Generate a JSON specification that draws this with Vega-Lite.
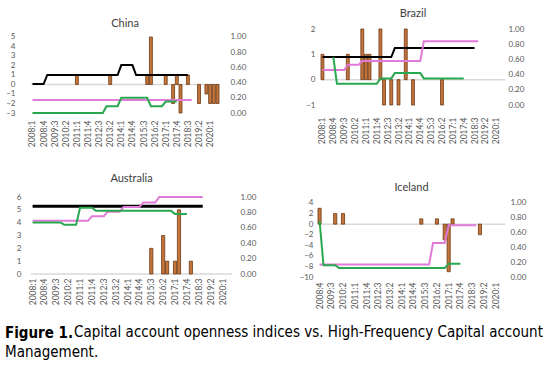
{
"$schema": "https://vega.github.io/schema/vega-lite/v6.json",
"padding": {"left": 5, "top": 8, "right": 0, "bottom": 0},
"datasets": {
"cn_bar": [{"q":"2011:1","v":1},{"q":"2013:2","v":1},{"q":"2015:4","v":1},{"q":"2016:1","v":5},{"q":"2017:1","v":1},{"q":"2017:3","v":-2},{"q":"2017:4","v":1},{"q":"2018:1","v":-3},{"q":"2018:3","v":1},{"q":"2019:2","v":-2},{"q":"2019:4","v":-1},{"q":"2020:1","v":-2},{"q":"2020:2","v":-2},{"q":"2020:3","v":-2}],
"cn_line": [
{"q":"2008:1","b":0.38,"p":0.17,"g":0},{"q":"2008:2","b":0.38,"p":0.17,"g":0},{"q":"2008:3","b":0.38,"p":0.17,"g":0},{"q":"2008:4","b":0.38,"p":0.17,"g":0},
{"q":"2009:1","b":0.5,"p":0.17,"g":0},{"q":"2009:2","b":0.5,"p":0.17,"g":0},{"q":"2009:3","b":0.5,"p":0.17,"g":0},{"q":"2009:4","b":0.5,"p":0.17,"g":0},
{"q":"2010:1","b":0.5,"p":0.17,"g":0},{"q":"2010:2","b":0.5,"p":0.17,"g":0},{"q":"2010:3","b":0.5,"p":0.17,"g":0},{"q":"2010:4","b":0.5,"p":0.17,"g":0},
{"q":"2011:1","b":0.5,"p":0.17,"g":0},{"q":"2011:2","b":0.5,"p":0.17,"g":0},{"q":"2011:3","b":0.5,"p":0.17,"g":0},{"q":"2011:4","b":0.5,"p":0.17,"g":0},
{"q":"2012:1","b":0.5,"p":0.17,"g":0},{"q":"2012:2","b":0.5,"p":0.17,"g":0},{"q":"2012:3","b":0.5,"p":0.17,"g":0},{"q":"2012:4","b":0.5,"p":0.17,"g":0},
{"q":"2013:1","b":0.5,"p":0.17,"g":0.09},{"q":"2013:2","b":0.5,"p":0.17,"g":0.09},{"q":"2013:3","b":0.5,"p":0.17,"g":0.09},{"q":"2013:4","b":0.5,"p":0.17,"g":0.09},
{"q":"2014:1","b":0.63,"p":0.17,"g":0.2},{"q":"2014:2","b":0.63,"p":0.17,"g":0.2},{"q":"2014:3","b":0.63,"p":0.17,"g":0.2},{"q":"2014:4","b":0.63,"p":0.17,"g":0.2},
{"q":"2015:1","b":0.5,"p":0.17,"g":0.2},{"q":"2015:2","b":0.5,"p":0.17,"g":0.2},{"q":"2015:3","b":0.5,"p":0.17,"g":0.2},{"q":"2015:4","b":0.5,"p":0.17,"g":0.2},
{"q":"2016:1","b":0.5,"p":0.17,"g":0.09},{"q":"2016:2","b":0.5,"p":0.17,"g":0.09},{"q":"2016:3","b":0.5,"p":0.17,"g":0.09},{"q":"2016:4","b":0.5,"p":0.17,"g":0.09},
{"q":"2017:1","b":0.5,"p":0.17,"g":0.15},{"q":"2017:2","b":0.5,"p":0.17,"g":0.15},{"q":"2017:3","b":0.5,"p":0.17,"g":0.15},{"q":"2017:4","b":0.5,"p":0.17,"g":0.15},
{"q":"2018:1","b":0.5,"p":0.17},{"q":"2018:2","b":0.5,"p":0.17},{"q":"2018:3","b":0.5,"p":0.17},{"q":"2018:4","p":0.17}],
"br_bar": [{"q":"2008:1","v":1},{"q":"2009:4","v":1},{"q":"2010:4","v":2},{"q":"2011:1","v":1},{"q":"2011:2","v":1},{"q":"2012:1","v":2},{"q":"2012:2","v":-1},{"q":"2012:4","v":-1},{"q":"2013:2","v":-1},{"q":"2013:4","v":2},{"q":"2014:2","v":-1},{"q":"2016:2","v":-1}],
"br_line": [
{"q":"2008:1","b":0.63,"p":0.46},{"q":"2008:2","b":0.63,"p":0.46},{"q":"2008:3","b":0.63,"p":0.46},{"q":"2008:4","b":0.63,"p":0.46,"g":0.63},
{"q":"2009:1","b":0.63,"p":0.46,"g":0.28},{"q":"2009:2","b":0.63,"p":0.46,"g":0.28},{"q":"2009:3","b":0.63,"p":0.46,"g":0.28},{"q":"2009:4","b":0.63,"p":0.53,"g":0.28},
{"q":"2010:1","b":0.63,"p":0.53,"g":0.28},{"q":"2010:2","b":0.63,"p":0.53,"g":0.28},{"q":"2010:3","b":0.63,"p":0.53,"g":0.28},{"q":"2010:4","b":0.63,"p":0.58,"g":0.28},
{"q":"2011:1","b":0.63,"p":0.58,"g":0.28},{"q":"2011:2","b":0.63,"p":0.58,"g":0.28},{"q":"2011:3","b":0.63,"p":0.58,"g":0.28},{"q":"2011:4","b":0.63,"p":0.58,"g":0.28},
{"q":"2012:1","b":0.63,"p":0.58,"g":0.35},{"q":"2012:2","b":0.63,"p":0.58,"g":0.35},{"q":"2012:3","b":0.63,"p":0.58,"g":0.35},{"q":"2012:4","b":0.63,"p":0.58,"g":0.35},
{"q":"2013:1","b":0.75,"p":0.58,"g":0.42},{"q":"2013:2","b":0.75,"p":0.58,"g":0.42},{"q":"2013:3","b":0.75,"p":0.58,"g":0.42},{"q":"2013:4","b":0.75,"p":0.58,"g":0.42},
{"q":"2014:1","b":0.75,"p":0.58,"g":0.42},{"q":"2014:2","b":0.75,"p":0.58,"g":0.42},{"q":"2014:3","b":0.75,"p":0.58,"g":0.42},{"q":"2014:4","b":0.75,"p":0.58,"g":0.42},
{"q":"2015:1","b":0.75,"p":0.84,"g":0.35},{"q":"2015:2","b":0.75,"p":0.84,"g":0.35},{"q":"2015:3","b":0.75,"p":0.84,"g":0.35},{"q":"2015:4","b":0.75,"p":0.84,"g":0.35},
{"q":"2016:1","b":0.75,"p":0.84,"g":0.35},{"q":"2016:2","b":0.75,"p":0.84,"g":0.35},{"q":"2016:3","b":0.75,"p":0.84,"g":0.35},{"q":"2016:4","b":0.75,"p":0.84,"g":0.35},
{"q":"2017:1","b":0.75,"p":0.84,"g":0.35},{"q":"2017:2","b":0.75,"p":0.84,"g":0.35},{"q":"2017:3","b":0.75,"p":0.84,"g":0.35},{"q":"2017:4","b":0.75,"p":0.84,"g":0.35},
{"q":"2018:1","b":0.75,"p":0.84},{"q":"2018:2","b":0.75,"p":0.84},{"q":"2018:3","b":0.75,"p":0.84},{"q":"2018:4","p":0.84}],
"au_bar": [{"q":"2015:3","v":2},{"q":"2016:2","v":3},{"q":"2016:3","v":1},{"q":"2017:1","v":1},{"q":"2017:2","v":5},{"q":"2018:1","v":1}],
"au_line": [
{"q":"2008:1","b":0.88,"p":0.69,"g":0.67},{"q":"2008:2","b":0.88,"p":0.69,"g":0.67},{"q":"2008:3","b":0.88,"p":0.69,"g":0.67},{"q":"2008:4","b":0.88,"p":0.69,"g":0.67},
{"q":"2009:1","b":0.88,"p":0.69,"g":0.67},{"q":"2009:2","b":0.88,"p":0.69,"g":0.67},{"q":"2009:3","b":0.88,"p":0.69,"g":0.67},{"q":"2009:4","b":0.88,"p":0.69,"g":0.67},
{"q":"2010:1","b":0.88,"p":0.69,"g":0.64},{"q":"2010:2","b":0.88,"p":0.69,"g":0.64},{"q":"2010:3","b":0.88,"p":0.69,"g":0.64},{"q":"2010:4","b":0.88,"p":0.69,"g":0.64},
{"q":"2011:1","b":0.88,"p":0.69,"g":0.86},{"q":"2011:2","b":0.88,"p":0.69,"g":0.86},{"q":"2011:3","b":0.88,"p":0.69,"g":0.86},{"q":"2011:4","b":0.88,"p":0.75,"g":0.86},
{"q":"2012:1","b":0.88,"p":0.75,"g":0.82},{"q":"2012:2","b":0.88,"p":0.75,"g":0.82},{"q":"2012:3","b":0.88,"p":0.75,"g":0.82},{"q":"2012:4","b":0.88,"p":0.81,"g":0.82},
{"q":"2013:1","b":0.88,"p":0.81,"g":0.82},{"q":"2013:2","b":0.88,"p":0.81,"g":0.82},{"q":"2013:3","b":0.88,"p":0.81,"g":0.82},{"q":"2013:4","b":0.88,"p":0.87,"g":0.82},
{"q":"2014:1","b":0.88,"p":0.87,"g":0.82},{"q":"2014:2","b":0.88,"p":0.87,"g":0.82},{"q":"2014:3","b":0.88,"p":0.87,"g":0.82},{"q":"2014:4","b":0.88,"p":0.87,"g":0.82},
{"q":"2015:1","b":0.88,"p":0.93,"g":0.82},{"q":"2015:2","b":0.88,"p":0.93,"g":0.82},{"q":"2015:3","b":0.88,"p":0.93,"g":0.82},{"q":"2015:4","b":0.88,"p":0.93,"g":0.82},
{"q":"2016:1","b":0.88,"p":1,"g":0.82},{"q":"2016:2","b":0.88,"p":1,"g":0.82},{"q":"2016:3","b":0.88,"p":1,"g":0.82},{"q":"2016:4","b":0.88,"p":1,"g":0.82},
{"q":"2017:1","b":0.88,"p":1,"g":0.78},{"q":"2017:2","b":0.88,"p":1,"g":0.78},{"q":"2017:3","b":0.88,"p":1,"g":0.78},{"q":"2017:4","b":0.88,"p":1,"g":0.78},
{"q":"2018:1","b":0.88,"p":1},{"q":"2018:2","b":0.88,"p":1},{"q":"2018:3","b":0.88,"p":1},{"q":"2018:4","b":0.88,"p":1}],
"is_bar": [{"q":"2008:4","v":3},{"q":"2009:4","v":2},{"q":"2010:2","v":2},{"q":"2015:2","v":1},{"q":"2016:2","v":1},{"q":"2016:4","v":-3},{"q":"2017:1","v":-9},{"q":"2017:2","v":1},{"q":"2019:1","v":-2}],
"is_line": [
{"q":"2008:4","p":0.17,"g":0.76},
{"q":"2009:1","p":0.17,"g":0.16},{"q":"2009:2","p":0.17,"g":0.16},{"q":"2009:3","p":0.17,"g":0.16},{"q":"2009:4","p":0.17,"g":0.16},
{"q":"2010:1","p":0.17,"g":0.12},{"q":"2010:2","p":0.17,"g":0.12},{"q":"2010:3","p":0.17,"g":0.12},{"q":"2010:4","p":0.17,"g":0.12},
{"q":"2011:1","p":0.17,"g":0.12},{"q":"2011:2","p":0.17,"g":0.12},{"q":"2011:3","p":0.17,"g":0.12},{"q":"2011:4","p":0.17,"g":0.12},
{"q":"2012:1","p":0.17,"g":0.12},{"q":"2012:2","p":0.17,"g":0.12},{"q":"2012:3","p":0.17,"g":0.12},{"q":"2012:4","p":0.17,"g":0.12},
{"q":"2013:1","p":0.17,"g":0.12},{"q":"2013:2","p":0.17,"g":0.12},{"q":"2013:3","p":0.17,"g":0.12},{"q":"2013:4","p":0.17,"g":0.12},
{"q":"2014:1","p":0.17,"g":0.12},{"q":"2014:2","p":0.17,"g":0.12},{"q":"2014:3","p":0.17,"g":0.12},{"q":"2014:4","p":0.17,"g":0.12},
{"q":"2015:1","p":0.17,"g":0.12},{"q":"2015:2","p":0.17,"g":0.12},{"q":"2015:3","p":0.17,"g":0.12},{"q":"2015:4","p":0.17,"g":0.12},
{"q":"2016:1","p":0.46,"g":0.12},{"q":"2016:2","p":0.46,"g":0.12},{"q":"2016:3","p":0.46,"g":0.12},{"q":"2016:4","p":0.46,"g":0.12},
{"q":"2017:1","p":0.7,"g":0.18},{"q":"2017:2","p":0.7,"g":0.18},{"q":"2017:3","p":0.7,"g":0.18},{"q":"2017:4","p":0.7,"g":0.18},
{"q":"2018:1","p":0.7},{"q":"2018:2","p":0.7},{"q":"2018:3","p":0.7},{"q":"2018:4","p":0.7}]
},
"title": {
 "text": "Capital account openness indices vs. High-Frequency Capital account",
 "orient": "bottom", "anchor": "start", "offset": -35, "dx": 69,
 "font": "'Liberation Sans Narrow', 'Arial Narrow', 'DejaVu Sans Condensed', 'Liberation Sans', sans-serif",
 "fontSize": 15, "fontWeight": "normal", "color": "#000000"
},
"vconcat": [
{
"title": {
 "text": "Figure 1.", "subtitle": "Management.",
 "orient": "bottom", "anchor": "start", "offset": 13,
 "font": "'Liberation Sans Narrow', 'Arial Narrow', 'DejaVu Sans Condensed', 'Liberation Sans', sans-serif",
 "fontSize": 15, "fontWeight": "bold", "color": "#000000",
 "subtitleFont": "'Liberation Sans Narrow', 'Arial Narrow', 'DejaVu Sans Condensed', 'Liberation Sans', sans-serif",
 "subtitleFontSize": 15, "subtitleFontWeight": "normal", "subtitleColor": "#000000", "subtitlePadding": 4
},
"spacing": 24,
"vconcat": [
{"hconcat": [
{"title": {"text": "China", "offset": 0}, "width": 188, "height": 84,
 "layer": [
  {"layer": [
   {"data": {"values": [{"z": 0}]}, "mark": {"type": "rule", "color": "#d9d9d9", "strokeWidth": 1.5}, "encoding": {"y": {"field": "z", "type": "quantitative", "title": null, "axis": {"orient": "left", "values": [-3,-2,-1,0,1,2,3,4,5], "labelOverlap": false, "labelPadding": 16, "minExtent": 26, "maxExtent": 26}}}},
   {"data": {"name": "cn_bar"}, "mark": {"type": "bar", "fill": "#c5743a", "stroke": "#6b3815", "strokeWidth": 0.8},
    "encoding": {
     "x": {"field": "q", "type": "ordinal", "title": null, "scale": {"domain": ["2008:1","2008:2","2008:3","2008:4","2009:1","2009:2","2009:3","2009:4","2010:1","2010:2","2010:3","2010:4","2011:1","2011:2","2011:3","2011:4","2012:1","2012:2","2012:3","2012:4","2013:1","2013:2","2013:3","2013:4","2014:1","2014:2","2014:3","2014:4","2015:1","2015:2","2015:3","2015:4","2016:1","2016:2","2016:3","2016:4","2017:1","2017:2","2017:3","2017:4","2018:1","2018:2","2018:3","2018:4","2019:1","2019:2","2019:3","2019:4","2020:1","2020:2","2020:3"], "paddingInner": 0.2, "paddingOuter": 0}, "axis": {"values": ["2008:1","2008:4","2009:3","2010:2","2011:1","2011:4","2012:3","2013:2","2014:1","2014:4","2015:3","2016:2","2017:1","2017:4","2018:3","2019:2","2020:1"], "labelAngle": 270, "labelPadding": 7, "labelFontSize": 8.5, "labelOverlap": false, "minExtent": 36, "maxExtent": 36}},
     "y": {"field": "v", "type": "quantitative", "title": null, "scale": {"domain": [-3, 5.842], "nice": false}, "axis": {"orient": "left", "values": [-3,-2,-1,0,1,2,3,4,5], "labelOverlap": false, "labelPadding": 16, "minExtent": 26, "maxExtent": 26}}
    }}
  ]},
  {"data": {"name": "cn_line"},
   "encoding": {"x": {"field": "q", "type": "ordinal", "title": null}},
   "layer": [
    {"mark": {"type": "line", "color": "#000000", "strokeWidth": 2}, "encoding": {"y": {"field": "b", "type": "quantitative", "title": null, "scale": {"domain": [0, 1.105], "nice": false}, "axis": {"orient": "right", "values": [0,0.2,0.4,0.6,0.8,1], "format": ".2f", "labelOverlap": false, "labelPadding": 11, "minExtent": 30, "maxExtent": 30}}}},
    {"mark": {"type": "line", "color": "#e27ad9", "strokeWidth": 2}, "encoding": {"y": {"field": "p", "type": "quantitative", "title": null, "axis": {"orient": "right", "values": [0,0.2,0.4,0.6,0.8,1], "format": ".2f", "labelOverlap": false, "labelPadding": 11, "minExtent": 30, "maxExtent": 30}}}},
    {"mark": {"type": "line", "color": "#2aa84f", "strokeWidth": 2}, "encoding": {"y": {"field": "g", "type": "quantitative", "title": null, "axis": {"orient": "right", "values": [0,0.2,0.4,0.6,0.8,1], "format": ".2f", "labelOverlap": false, "labelPadding": 11, "minExtent": 30, "maxExtent": 30}}}}
   ]}
 ],
 "resolve": {"scale": {"y": "independent"}, "axis": {"y": "independent"}}
},
{"title": {"text": "Brazil", "offset": 6}, "width": 184, "height": 76,
 "layer": [
  {"layer": [
   {"data": {"values": [{"z": 0}]}, "mark": {"type": "rule", "color": "#d9d9d9", "strokeWidth": 1.5}, "encoding": {"y": {"field": "z", "type": "quantitative", "title": null, "axis": {"orient": "left", "values": [-1,0,1,2], "labelOverlap": false, "labelPadding": 6, "minExtent": 20, "maxExtent": 20}}}},
   {"data": {"name": "br_bar"}, "mark": {"type": "bar", "fill": "#c5743a", "stroke": "#6b3815", "strokeWidth": 0.8},
    "encoding": {
     "x": {"field": "q", "type": "ordinal", "title": null, "scale": {"domain": ["2008:1","2008:2","2008:3","2008:4","2009:1","2009:2","2009:3","2009:4","2010:1","2010:2","2010:3","2010:4","2011:1","2011:2","2011:3","2011:4","2012:1","2012:2","2012:3","2012:4","2013:1","2013:2","2013:3","2013:4","2014:1","2014:2","2014:3","2014:4","2015:1","2015:2","2015:3","2015:4","2016:1","2016:2","2016:3","2016:4","2017:1","2017:2","2017:3","2017:4","2018:1","2018:2","2018:3","2018:4","2019:1","2019:2","2019:3","2019:4","2020:1","2020:2","2020:3"], "paddingInner": 0.2, "paddingOuter": 0}, "axis": {"values": ["2008:1","2008:4","2009:3","2010:2","2011:1","2011:4","2012:3","2013:2","2014:1","2014:4","2015:3","2016:2","2017:1","2017:4","2018:3","2019:2","2020:1"], "labelAngle": 270, "labelPadding": 12, "labelFontSize": 8.5, "labelOverlap": false, "minExtent": 36, "maxExtent": 36}},
     "y": {"field": "v", "type": "quantitative", "title": null, "scale": {"domain": [-1, 2], "nice": false}, "axis": {"orient": "left", "values": [-1,0,1,2], "labelOverlap": false, "labelPadding": 6, "minExtent": 20, "maxExtent": 20}}
    }}
  ]},
  {"data": {"name": "br_line"},
   "encoding": {"x": {"field": "q", "type": "ordinal", "title": null}},
   "layer": [
    {"mark": {"type": "line", "color": "#000000", "strokeWidth": 2}, "encoding": {"y": {"field": "b", "type": "quantitative", "title": null, "scale": {"domain": [0, 1], "nice": false}, "axis": {"orient": "right", "values": [0,0.2,0.4,0.6,0.8,1], "format": ".2f", "labelOverlap": false, "labelPadding": 3, "minExtent": 30, "maxExtent": 30}}}},
    {"mark": {"type": "line", "color": "#e27ad9", "strokeWidth": 2}, "encoding": {"y": {"field": "p", "type": "quantitative", "title": null, "axis": {"orient": "right", "values": [0,0.2,0.4,0.6,0.8,1], "format": ".2f", "labelOverlap": false, "labelPadding": 3, "minExtent": 30, "maxExtent": 30}}}},
    {"mark": {"type": "line", "color": "#2aa84f", "strokeWidth": 2}, "encoding": {"y": {"field": "g", "type": "quantitative", "title": null, "axis": {"orient": "right", "values": [0,0.2,0.4,0.6,0.8,1], "format": ".2f", "labelOverlap": false, "labelPadding": 3, "minExtent": 30, "maxExtent": 30}}}}
   ]}
 ],
 "resolve": {"scale": {"y": "independent"}, "axis": {"y": "independent"}}
}
], "spacing": 52},
{"hconcat": [
{"title": {"text": "Australia", "offset": 9}, "width": 201, "height": 77,
 "layer": [
  {"layer": [
   {"data": {"values": [{"z": 0}]}, "mark": {"type": "rule", "color": "#d9d9d9", "strokeWidth": 1.5}, "encoding": {"y": {"field": "z", "type": "quantitative", "title": null, "axis": {"orient": "left", "values": [0,1,2,3,4,5,6], "labelOverlap": false, "labelPadding": 10, "minExtent": 24, "maxExtent": 24}}}},
   {"data": {"name": "au_bar"}, "mark": {"type": "bar", "fill": "#c5743a", "stroke": "#6b3815", "strokeWidth": 0.8},
    "encoding": {
     "x": {"field": "q", "type": "ordinal", "title": null, "scale": {"domain": ["2008:1","2008:2","2008:3","2008:4","2009:1","2009:2","2009:3","2009:4","2010:1","2010:2","2010:3","2010:4","2011:1","2011:2","2011:3","2011:4","2012:1","2012:2","2012:3","2012:4","2013:1","2013:2","2013:3","2013:4","2014:1","2014:2","2014:3","2014:4","2015:1","2015:2","2015:3","2015:4","2016:1","2016:2","2016:3","2016:4","2017:1","2017:2","2017:3","2017:4","2018:1","2018:2","2018:3","2018:4","2019:1","2019:2","2019:3","2019:4","2020:1","2020:2","2020:3"], "paddingInner": 0.2, "paddingOuter": 0}, "axis": {"values": ["2008:1","2008:4","2009:3","2010:2","2011:1","2011:4","2012:3","2013:2","2014:1","2014:4","2015:3","2016:2","2017:1","2017:4","2018:3","2019:2","2020:1"], "labelAngle": 270, "labelPadding": 4, "labelFontSize": 8.5, "labelOverlap": false, "minExtent": 36, "maxExtent": 36}},
     "y": {"field": "v", "type": "quantitative", "title": null, "scale": {"domain": [0, 6], "nice": false}, "axis": {"orient": "left", "values": [0,1,2,3,4,5,6], "labelOverlap": false, "labelPadding": 10, "minExtent": 24, "maxExtent": 24}}
    }}
  ]},
  {"data": {"name": "au_line"},
   "encoding": {"x": {"field": "q", "type": "ordinal", "title": null}},
   "layer": [
    {"mark": {"type": "line", "color": "#000000", "strokeWidth": 3}, "encoding": {"y": {"field": "b", "type": "quantitative", "title": null, "scale": {"domain": [0, 1], "nice": false}, "axis": {"orient": "right", "values": [0,0.2,0.4,0.6,0.8,1], "format": ".2f", "labelOverlap": false, "labelPadding": 8, "minExtent": 30, "maxExtent": 30}}}},
    {"mark": {"type": "line", "color": "#e27ad9", "strokeWidth": 2}, "encoding": {"y": {"field": "p", "type": "quantitative", "title": null, "axis": {"orient": "right", "values": [0,0.2,0.4,0.6,0.8,1], "format": ".2f", "labelOverlap": false, "labelPadding": 8, "minExtent": 30, "maxExtent": 30}}}},
    {"mark": {"type": "line", "color": "#2aa84f", "strokeWidth": 2}, "encoding": {"y": {"field": "g", "type": "quantitative", "title": null, "axis": {"orient": "right", "values": [0,0.2,0.4,0.6,0.8,1], "format": ".2f", "labelOverlap": false, "labelPadding": 8, "minExtent": 30, "maxExtent": 30}}}}
   ]}
 ],
 "resolve": {"scale": {"y": "independent"}, "axis": {"y": "independent"}}
},
{"title": {"text": "Iceland", "offset": 4}, "width": 187, "height": 80,
 "layer": [
  {"layer": [
   {"data": {"values": [{"z": 0}]}, "mark": {"type": "rule", "color": "#d9d9d9", "strokeWidth": 1.5}, "encoding": {"y": {"field": "z", "type": "quantitative", "title": null, "axis": {"orient": "left", "values": [-10,-8,-6,-4,-2,0,2,4], "labelOverlap": false, "labelPadding": 5, "minExtent": 20, "maxExtent": 20}}}},
   {"data": {"name": "is_bar"}, "mark": {"type": "bar", "fill": "#c5743a", "stroke": "#6b3815", "strokeWidth": 0.8},
    "encoding": {
     "x": {"field": "q", "type": "ordinal", "title": null, "scale": {"domain": ["2008:4","2009:1","2009:2","2009:3","2009:4","2010:1","2010:2","2010:3","2010:4","2011:1","2011:2","2011:3","2011:4","2012:1","2012:2","2012:3","2012:4","2013:1","2013:2","2013:3","2013:4","2014:1","2014:2","2014:3","2014:4","2015:1","2015:2","2015:3","2015:4","2016:1","2016:2","2016:3","2016:4","2017:1","2017:2","2017:3","2017:4","2018:1","2018:2","2018:3","2018:4","2019:1","2019:2","2019:3","2019:4","2020:1","2020:2","2020:3"], "paddingInner": 0.2, "paddingOuter": 0}, "axis": {"values": ["2008:4","2009:3","2010:2","2011:1","2011:4","2012:3","2013:2","2014:1","2014:4","2015:3","2016:2","2017:1","2017:4","2018:3","2019:2","2020:1"], "labelAngle": 270, "labelPadding": 5, "labelFontSize": 8.5, "labelOverlap": false, "minExtent": 36, "maxExtent": 36}},
     "y": {"field": "v", "type": "quantitative", "title": null, "scale": {"domain": [-10, 5.135], "nice": false}, "axis": {"orient": "left", "values": [-10,-8,-6,-4,-2,0,2,4], "labelOverlap": false, "labelPadding": 5, "minExtent": 20, "maxExtent": 20}}
    }}
  ]},
  {"data": {"name": "is_line"},
   "encoding": {"x": {"field": "q", "type": "ordinal", "title": null}},
   "layer": [
    {"mark": {"type": "line", "color": "#e27ad9", "strokeWidth": 2}, "encoding": {"y": {"field": "p", "type": "quantitative", "title": null, "scale": {"domain": [0, 1.081], "nice": false}, "axis": {"orient": "right", "values": [0,0.2,0.4,0.6,0.8,1], "format": ".2f", "labelOverlap": false, "labelPadding": 5, "minExtent": 30, "maxExtent": 30}}}},
    {"mark": {"type": "line", "color": "#2aa84f", "strokeWidth": 2}, "encoding": {"y": {"field": "g", "type": "quantitative", "title": null, "axis": {"orient": "right", "values": [0,0.2,0.4,0.6,0.8,1], "format": ".2f", "labelOverlap": false, "labelPadding": 5, "minExtent": 30, "maxExtent": 30}}}}
   ]}
 ],
 "resolve": {"scale": {"y": "independent"}, "axis": {"y": "independent"}}
}
], "spacing": 36}
]
}
],
"config": {
 "view": {"stroke": null},
 "axis": {"domain": false, "ticks": false, "grid": false, "labelOverlap": false, "labelFont": "Lato", "labelFontSize": 8, "labelColor": "#595959"},
 "title": {"font": "Lato", "fontSize": 11, "fontWeight": "normal", "color": "#404040"}
}
}
